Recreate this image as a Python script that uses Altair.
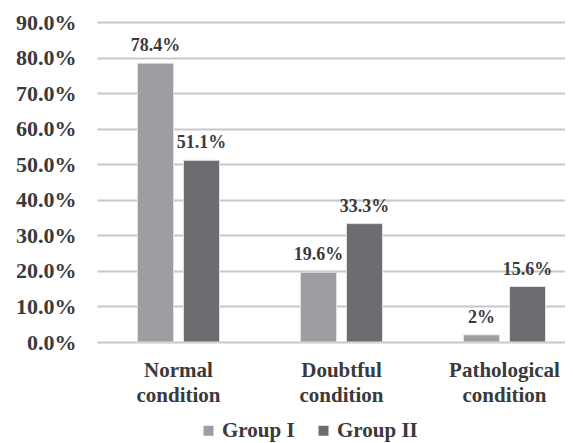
import altair as alt
import pandas as pd

categories = ["Normal condition", "Doubtful condition", "Pathological condition"]
groups = ["Group I", "Group II"]
group1 = [78.4, 19.6, 2.0]
group2 = [51.1, 33.3, 15.6]
labels1 = ["78.4%", "19.6%", "2%"]
labels2 = ["51.1%", "33.3%", "15.6%"]
y_ticks = [0, 10, 20, 30, 40, 50, 60, 70, 80, 90]

rows = []
for c, v, l in zip(categories, group1, labels1):
    rows.append({"cat": c, "group": groups[0], "value": v, "label": l})
for c, v, l in zip(categories, group2, labels2):
    rows.append({"cat": c, "group": groups[1], "value": v, "label": l})
df = pd.DataFrame(rows)

FONT = "Liberation Serif"
TXT = "#3a3a3a"

x = alt.X("cat:N", sort=categories, title=None,
          scale=alt.Scale(paddingInner=0, paddingOuter=0, range=[0, 489]),
          axis=alt.Axis(labelAngle=0, labelExpr="split(datum.label, ' ')",
                        labelFont=FONT, labelFontSize=21, labelFontWeight="bold",
                        labelColor=TXT, ticks=False, domain=False, grid=False,
                        labelPadding=17, labelLineHeight=25))
xo = alt.XOffset("group:N", sort=groups,
                 scale=alt.Scale(paddingInner=0.217, paddingOuter=0.88))
y = alt.Y("value:Q", title=None,
          scale=alt.Scale(domain=[0, 90], nice=False),
          axis=alt.Axis(values=y_ticks, tickCount=10, labelExpr="format(datum.value, '.1f') + '%'",
                        labelFont=FONT, labelFontSize=22, labelFontWeight="bold",
                        labelColor=TXT, ticks=False, domain=False, labelPadding=21,
                        labelOverlap=False, gridColor="#c8c8c8", gridWidth=2))
color = alt.Color("group:N", sort=groups,
                  scale=alt.Scale(domain=groups, range=["#9d9ea1", "#6c6d70"]),
                  legend=alt.Legend(title=None, orient="none", legendX=101, legendY=398,
                                    direction="horizontal",
                                    symbolType="square", symbolSize=100, symbolStrokeWidth=0,
                                    labelFont=FONT, labelFontSize=21, labelFontWeight="bold",
                                    labelColor=TXT, columnPadding=18, labelOffset=3))

bars = alt.Chart(df).mark_bar(stroke="#e0e0e0", strokeWidth=1).encode(
    x=x, xOffset=xo, y=y, color=color)
text = alt.Chart(df).mark_text(dy=-17, font=FONT, fontSize=18, fontWeight="bold", color=TXT).encode(
    x=x, xOffset=xo, y=y, text="label:N")

chart = alt.layer(bars, text).properties(
    width=466, height=320,
    autosize=alt.AutoSizeParams(type="none"),
    padding={"left": 89, "top": 14, "right": 2, "bottom": 100}
).configure_view(stroke=None)

chart.save("out.html", embed_options={"renderer": "svg", "actions": False})
